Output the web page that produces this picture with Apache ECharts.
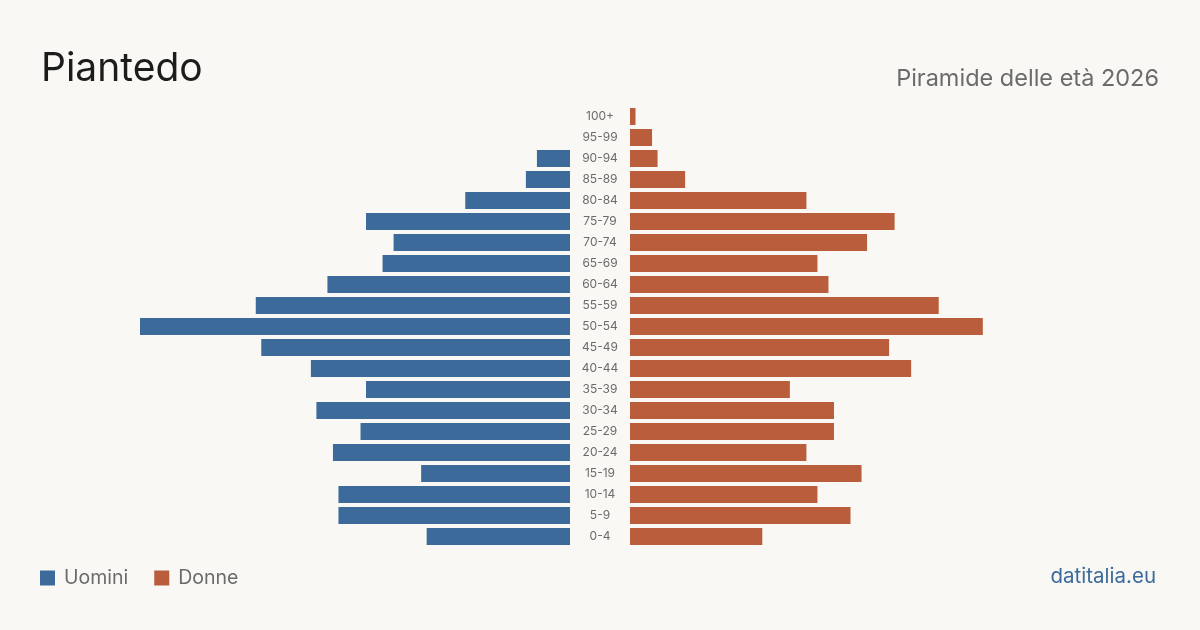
<!DOCTYPE html>
<html>
<head>
<meta charset="utf-8">
<script src="https://cdn.jsdelivr.net/npm/echarts@6/dist/echarts.min.js"></script>
<style>
  html, body { margin: 0; padding: 0; background: #f9f8f4; }
  #chart { width: 1200px; height: 630px; }
</style>
</head>
<body>
<div id="chart"></div>
<script>
// fasce d'età dall'alto (100+) verso il basso (0-4)
const ageGroups = ['100+', '95-99', '90-94', '85-89', '80-84', '75-79', '70-74', '65-69', '60-64', '55-59',
  '50-54', '45-49', '40-44', '35-39', '30-34', '25-29', '20-24', '15-19', '10-14', '5-9', '0-4']
const uomini = [0, 0, 6, 8, 19, 37, 32, 34, 44, 57, 78, 56, 47, 37, 46, 38, 43, 27, 42, 42, 26]
const donne = [1, 4, 5, 10, 32, 48, 43, 34, 36, 56, 64, 47, 51, 29, 37, 37, 32, 42, 34, 40, 24]

const maxVal = 78
const font = 'Inter, "Noto Sans", sans-serif'

const chart = echarts.init(document.getElementById('chart'))
chart.setOption({
  backgroundColor: '#f9f8f4',
  animation: false,
  textStyle: { fontFamily: font },
  title: [
    {
      text: 'Piantedo',
      left: 36,
      top: 45,
      textStyle: { fontSize: 39, fontWeight: 'normal', color: '#1c1c1c', fontFamily: font }
    },
    {
      text: 'Piramide delle età 2026',
      right: 36,
      top: 62,
      textStyle: { fontSize: 23.5, fontWeight: 'normal', color: '#6b6b6b', fontFamily: font }
    },
    {
      text: 'datitalia.eu',
      right: 39,
      top: 561,
      textStyle: { fontSize: 20.5, fontWeight: 'normal', color: '#3b6a9b', fontFamily: font }
    }
  ],
  legend: {
    left: 35,
    top: 563,
    icon: 'rect',
    itemWidth: 15,
    itemHeight: 15,
    itemGap: 26,
    textStyle: { fontSize: 19.5, color: '#6b6b6b', fontFamily: font, padding: [0, 0, 0, 4] },
    data: ['Uomini', 'Donne']
  },
  grid: [
    { left: 140, width: 430, top: 106, height: 441 },
    { left: 630, width: 430, top: 106, height: 441 }
  ],
  xAxis: [
    { gridIndex: 0, type: 'value', inverse: true, min: 0, max: maxVal, show: false },
    { gridIndex: 1, type: 'value', min: 0, max: maxVal, show: false }
  ],
  yAxis: [
    {
      gridIndex: 0,
      type: 'category',
      position: 'right',
      inverse: true,
      data: ageGroups,
      axisLine: { show: false },
      axisTick: { show: false },
      axisLabel: { align: 'center', margin: 30, fontSize: 12, color: '#6b6b6b', fontFamily: font, padding: [2, 0, 0, 0] }
    },
    {
      gridIndex: 1,
      type: 'category',
      inverse: true,
      data: ageGroups,
      axisLine: { show: false },
      axisTick: { show: false },
      axisLabel: { show: false }
    }
  ],
  series: [
    {
      name: 'Uomini',
      type: 'bar',
      xAxisIndex: 0,
      yAxisIndex: 0,
      barCategoryGap: '19%',
      itemStyle: { color: '#3b6a9b' },
      data: uomini
    },
    {
      name: 'Donne',
      type: 'bar',
      xAxisIndex: 1,
      yAxisIndex: 1,
      barCategoryGap: '19%',
      itemStyle: { color: '#b95d3c' },
      data: donne
    }
  ]
})
</script>
</body>
</html>
